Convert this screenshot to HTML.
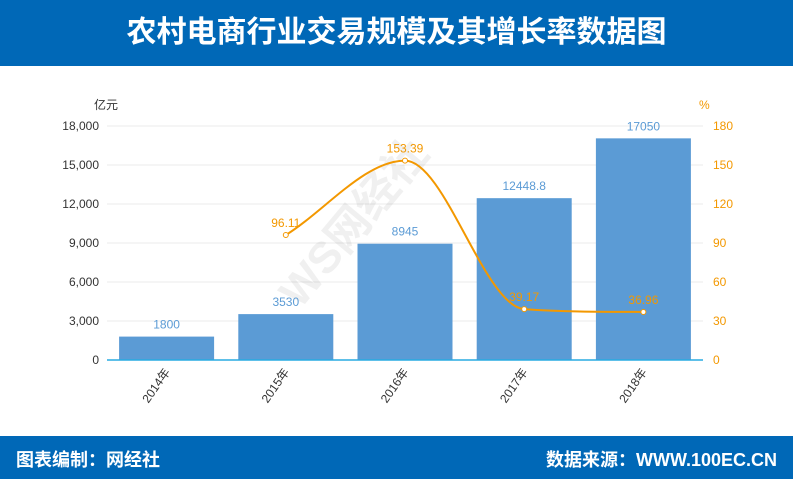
<!DOCTYPE html>
<html><head><meta charset="utf-8"><style>
body{margin:0;width:793px;height:479px;overflow:hidden;background:#fff;font-family:"Liberation Sans","Noto Sans CJK SC",sans-serif}
.hdr{position:absolute;left:0;top:0;width:793px;height:66px;background:#0068b7;color:#fff;font-weight:bold;font-size:30px;text-align:center;line-height:66px}
.ftr{position:absolute;left:0;top:436px;width:793px;height:43px;background:#0068b7;color:#fff;font-weight:bold;font-size:18px;line-height:48px}
</style></head><body>
<div class="hdr">农村电商行业交易规模及其增长率数据图</div>
<svg id="c" width="793" height="479" style="position:absolute;left:0;top:0"></svg>
<div class="ftr"><span style="position:absolute;left:16px">图表编制：网经社</span><span style="position:absolute;right:16px">数据来源：WWW.100EC.CN</span></div>
<script>
const categories=["2014年","2015年","2016年","2017年","2018年"];
const volume=[1800,3530,8945,12448.8,17050];
const volumeLabels=["1800","3530","8945","12448.8","17050"];
const growth=[null,96.11,153.39,39.17,36.96];
const growthLabels=["","96.11","153.39","39.17","36.96"];
const leftTicks=[0,3000,6000,9000,12000,15000,18000];
const rightTicks=[0,30,60,90,120,150,180];
const NS="http://www.w3.org/2000/svg",svg=document.getElementById('c');
const X0=107,X1=703,Y0=360,Y1=126;
const band=(X1-X0)/categories.length;
const xc=i=>X0+band*(i+0.5);
const yl=v=>Y0-(v/18000)*(Y0-Y1);
const yr=v=>Y0-(v/180)*(Y0-Y1);
function el(t,a,txt){const e=document.createElementNS(NS,t);for(const k in a)e.setAttribute(k,a[k]);if(txt!=null)e.textContent=txt;svg.appendChild(e);return e;}
leftTicks.forEach((t,i)=>{
 if(t>0){const g=el('line',{x1:X0,x2:X1,y1:yl(t),y2:yl(t),stroke:'#ebebeb'});}
 const a=el('text',{x:99,y:yl(t)+4,'text-anchor':'end','font-size':12,fill:'#333'},t.toLocaleString('en-US'));
 
 const b=el('text',{x:713,y:yr(rightTicks[i])+4,'font-size':12,fill:'#f39800'},rightTicks[i]);
 
});
let u=el('text',{x:94,y:109,'font-size':12,fill:'#333'},'亿元');
u=el('text',{x:699,y:109,'font-size':12,fill:'#f39800'},'%');
const wm=el('text',{x:300,y:310,'font-size':44,'font-weight':'bold',fill:'#000','fill-opacity':0.06,transform:'rotate(-50 300 310)'},'WS网经社');

volume.forEach((v,i)=>{
 const r=el('rect',{x:xc(i)-47.5,y:yl(v),width:95,height:Y0-yl(v),fill:'#5b9bd5'});
 
 const t=el('text',{x:xc(i),y:yl(v)-8,'text-anchor':'middle','font-size':12,fill:'#5b9bd5'},volumeLabels[i]);
 
 const c=el('text',{x:xc(i)+4,y:Y0+12,'text-anchor':'end','font-size':12,fill:'#333',transform:`rotate(-55 ${xc(i)+4} ${Y0+12})`},categories[i]);
 
});
const ax=el('line',{x1:X0,x2:X1,y1:Y0,y2:Y0,stroke:'#29abe2','stroke-width':1.5});
const pts=[];growth.forEach((g,i)=>{if(g!=null)pts.push([xc(i),yr(g)]);});
// monotone cubic
const n=pts.length,dx=[],sl=[],m=[];
for(let i=0;i<n-1;i++){dx[i]=pts[i+1][0]-pts[i][0];sl[i]=(pts[i+1][1]-pts[i][1])/dx[i];}
m[0]=sl[0];m[n-1]=sl[n-2];
for(let i=1;i<n-1;i++){m[i]=(sl[i-1]*sl[i]<=0)?0:(sl[i-1]+sl[i])/2;}
for(let i=0;i<n-1;i++){if(sl[i]===0){m[i]=m[i+1]=0;continue;}const a=m[i]/sl[i],b=m[i+1]/sl[i],h=a*a+b*b;if(h>9){const t=3/Math.sqrt(h);m[i]=t*a*sl[i];m[i+1]=t*b*sl[i];}}
let d='M'+pts[0][0]+','+pts[0][1];
for(let i=0;i<n-1;i++){const h=dx[i]/3;d+=` C${pts[i][0]+h},${pts[i][1]+m[i]*h} ${pts[i+1][0]-h},${pts[i+1][1]-m[i+1]*h} ${pts[i+1][0]},${pts[i+1][1]}`;}
const ln=el('path',{d:d,fill:'none',stroke:'#f39800','stroke-width':2});
growth.forEach((g,i)=>{if(g==null)return;
 const c=el('circle',{cx:xc(i),cy:yr(g),r:2.5,fill:'#fff',stroke:'#f39800'});
 const t=el('text',{x:xc(i),y:yr(g)-8,'text-anchor':'middle','font-size':12,fill:'#f39800'},growthLabels[i]);
});
</script>
</body></html>
